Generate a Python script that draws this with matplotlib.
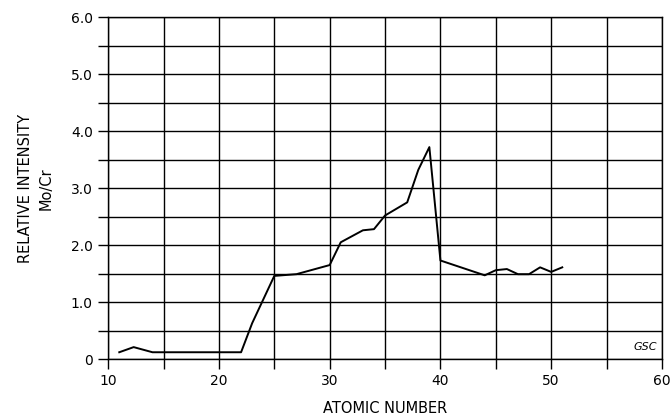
import matplotlib.pyplot as plt
from matplotlib.ticker import MultipleLocator

plt.rcParams['font.family'] = ['DejaVu Sans']

# values
atomic_number = [11, 12.3, 14, 18, 22, 23, 25, 27, 30, 31, 33, 34, 35, 37, 38, 39,
                 40, 44, 45, 46, 47, 48, 49, 50, 51]
mo_cr = [0.12, 0.21, 0.12, 0.12, 0.12, 0.63, 1.46, 1.49, 1.65, 2.05, 2.26, 2.28, 2.52,
         2.75, 3.32, 3.72, 1.73, 1.47, 1.56, 1.58, 1.49, 1.49, 1.61, 1.53, 1.61]

x_labels = ['10', '20', '30', '40', '50', '60']
y_labels = ['0', '1.0', '2.0', '3.0', '4.0', '5.0', '6.0']

fig = plt.figure(figsize=(6.72, 4.19), dpi=100)
ax = fig.add_axes([0.161, 0.143, 0.824, 0.816])

ax.plot(atomic_number, mo_cr, color='black', linewidth=1.4, zorder=3)

ax.set_xlim(10, 60)
ax.set_ylim(0, 6)
ax.set_xticks(range(10, 61, 10))
ax.set_xticklabels(x_labels)
ax.set_yticks(range(0, 7))
ax.set_yticklabels(y_labels)
ax.xaxis.set_minor_locator(MultipleLocator(5))
ax.yaxis.set_minor_locator(MultipleLocator(0.5))

ax.grid(True, which='both', color='black', linewidth=1.0)
ax.tick_params(which='both', direction='out', length=7, width=1.0, color='black',
               labelsize=10, pad=4)
for s in ax.spines.values():
    s.set_linewidth(1.0)
    s.set_color('black')

ax.set_xlabel('ATOMIC NUMBER', fontsize=10.5, labelpad=9)
ax.set_ylabel('RELATIVE INTENSITY', fontsize=10.5, labelpad=27)
fig.text(0.069, 0.55, 'Mo/Cr', rotation=90, fontsize=10.5, ha='center', va='center')

ax.text(59.6, 0.12, 'GSC', fontsize=8, style='italic', ha='right', va='bottom')

fig.savefig('out.png', dpi=100)
